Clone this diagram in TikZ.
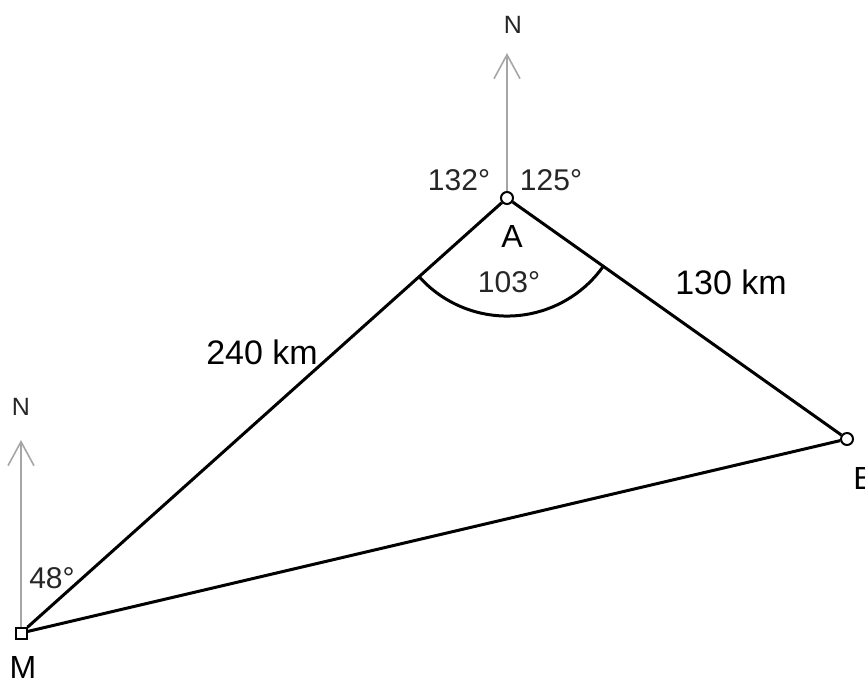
\documentclass[tikz,border=0pt]{standalone}
\usepackage{fontspec}
\setmainfont{Liberation Sans}
\usepackage{tikz}
\usetikzlibrary{arrows.meta,calc}
\tikzset{
  leg/.style={black, line width=1.5pt},
  north/.style={-{Straight Barb[length=12pt,width=13pt,line width=0.8pt]}, black!35, line width=0.8pt},
  ptcirc/.style={circle, draw=black, fill=white, line width=1pt, inner sep=0pt, minimum size=6pt},
  ptsq/.style={rectangle, draw=black, fill=white, line width=1pt, inner sep=0pt, minimum size=5.5pt},
  dist/.style={font=\fontsize{17}{19}\selectfont, text=black},
  ang/.style={font=\fontsize{15}{17}\selectfont, text=black!85},
  ptname/.style={font=\fontsize{16}{18}\selectfont, text=black},
  nlab/.style={font=\fontsize{12.5}{14}\selectfont, text=black!85},
}
\begin{document}
\begin{tikzpicture}[x=0.5pt, y=-0.5pt]
  \useasboundingbox (0,0) rectangle (865,682);
  % points of the triangle
  \node[ptsq] (M) at (21,633) {};
  \node[ptcirc] (A) at (507,198) {};
  \node[ptcirc] (B) at (847,439) {};
  % north arrows
  \coordinate (nM) at (21,440);
  \coordinate (nA) at (507,53);
  \draw[north] (M) -- (nM);
  \draw[north] (A) -- (nA);
  \node[nlab] (labnM) at (21,407) {N};
  \node[nlab] (labnA) at (513,25) {N};
  % legs
  \draw[leg] (M) -- (A);
  \draw[leg] (A) -- (B);
  \draw[leg] (B) -- (M);
  % angle at A
  \coordinate (arcs) at ($(A)!59pt!(M)$);
  \draw[leg] (arcs) arc[start angle=221.8, end angle=324.7, radius=59pt];
  % labels
  \node[ptname] (labA) at (512,236) {A};
  \node[ptname] (labB) at (864,478) {B};
  \node[ptname] (labM) at (23,667) {M};
  \node[ang] (a132) at (459,180) {132°};
  \node[ang] (a125) at (551,180) {125°};
  \node[ang] (a103) at (509,282) {103°};
  \node[ang] (a48) at (52,578) {48°};
  \node[dist] (dMA) at (262,352) {240 km};
  \node[dist] (dAB) at (731,282) {130 km};
\end{tikzpicture}
\end{document}
